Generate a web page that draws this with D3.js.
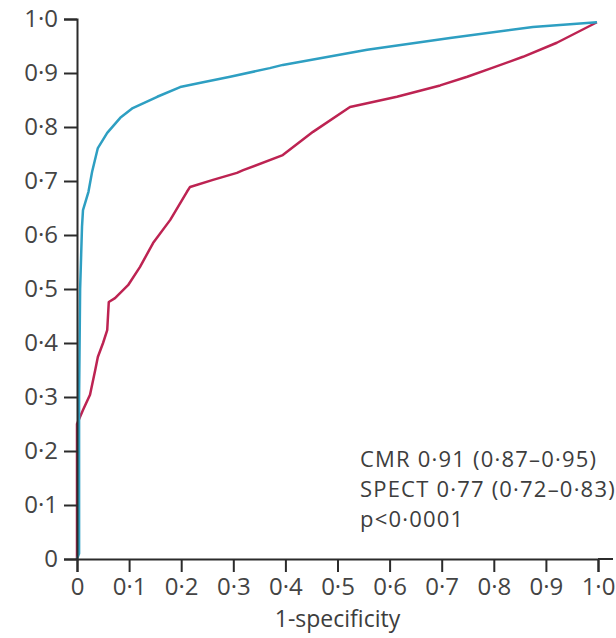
<html>
<head>
<style type="text/css">
	body { margin: 0; background: white; }
	.chart text { font-family: "Open Sans", sans-serif; fill: #3d3d3d; }
	.chart .domain, .chart .tick line { stroke: #2b2b2b; stroke-width: 2; }
</style>
</head>
<body>
<svg class="chart" width=616 height=638></svg>

<script src='https://cdn.jsdelivr.net/npm/d3@7'></script>
<script>
// CMR curve (1-specificity, sensitivity)
var cmrFpr = [0, 0.004, 0.004, 0.006, 0.0096, 0.0115, 0.022, 0.029, 0.040, 0.058, 0.083, 0.107, 0.154, 0.198, 0.242, 0.294, 0.370, 0.395, 0.557, 0.716, 0.875, 0.998];
var cmrTpr = [0, 0.01, 0.30, 0.50, 0.615, 0.646, 0.680, 0.717, 0.761, 0.789, 0.817, 0.835, 0.856, 0.874, 0.883, 0.893, 0.909, 0.915, 0.943, 0.965, 0.985, 0.994];

// SPECT curve
var spectFpr = [0, 0, 0.0115, 0.025, 0.035, 0.040, 0.050, 0.058, 0.061, 0.073, 0.098, 0.121, 0.146, 0.179, 0.211, 0.217, 0.261, 0.307, 0.319, 0.395, 0.453, 0.524, 0.557, 0.614, 0.697, 0.749, 0.793, 0.856, 0.921, 0.998];
var spectTpr = [0, 0.25, 0.276, 0.304, 0.350, 0.374, 0.400, 0.424, 0.476, 0.483, 0.507, 0.541, 0.585, 0.628, 0.680, 0.689, 0.702, 0.715, 0.720, 0.748, 0.791, 0.837, 0.844, 0.856, 0.877, 0.893, 0.908, 0.930, 0.956, 0.994];

var tickVals = [0, 0.1, 0.2, 0.3, 0.4, 0.5, 0.6, 0.7, 0.8, 0.9, 1.0];
var tickLabels = ["0", "0·1", "0·2", "0·3", "0·4", "0·5", "0·6", "0·7", "0·8", "0·9", "1·0"];

var statLines = ["CMR 0·91 (0·87–0·95)", "SPECT 0·77 (0·72–0·83)", "p<0·0001"];
var xTitle = "1-specificity";

var svg = d3.select("svg");

//Define Scales
var xScale = d3.scaleLinear()
	.domain([0, 1])
	.range([77, 598]);

var yScale = d3.scaleLinear()
	.domain([0, 1])
	.range([559, 19]);

var line = d3.line()
	.x(function(d) { return xScale(d[0]); })
	.y(function(d) { return yScale(d[1]); });

//Add curves
var spectData = spectFpr.map(function(v, i) { return [v, spectTpr[i]]; });
var cmrData = cmrFpr.map(function(v, i) { return [v, cmrTpr[i]]; });

svg.append("path")
	.datum(spectData)
	.attr("d", line)
	.attr("fill", "none")
	.attr("stroke", "#bd2352")
	.attr("stroke-width", 2.5)
	.attr("stroke-linejoin", "round");

svg.append("path")
	.datum(cmrData)
	.attr("d", line)
	.attr("fill", "none")
	.attr("stroke", "#2e9fc2")
	.attr("stroke-width", 2.5)
	.attr("stroke-linejoin", "round");

//Add Axes
var fmt = function(d, i) { return tickLabels[i]; };

svg.append("g")
	.attr("transform", "translate(77,0)")
	.call(d3.axisLeft(yScale)
		.tickValues(tickVals)
		.tickFormat(fmt)
		.tickSize(13)
		.tickPadding(6));

svg.append("g")
	.attr("transform", "translate(0,559)")
	.call(d3.axisBottom(xScale)
		.tickValues(tickVals)
		.tickFormat(fmt)
		.tickSize(13)
		.tickPadding(6));

// baseline runs a little past 1·0
svg.append("line")
	.attr("x1", xScale(1))
	.attr("x2", xScale(1) + 15)
	.attr("y1", yScale(0))
	.attr("y2", yScale(0))
	.attr("stroke", "#2b2b2b")
	.attr("stroke-width", 2);

svg.selectAll(".tick text")
	.style("font-size", "24px")
	.style("font-family", "'Open Sans', sans-serif")
	.style("fill", "#444");

//Add Axis title
svg.append("text")
	.attr("x", xScale(0.5))
	.attr("y", 627)
	.style("text-anchor", "middle")
	.style("font-size", "23px")
	.text(xTitle);

//Add stats text
svg.append("g")
	.selectAll("text")
	.data(statLines)
	.enter()
	.append("text")
	.attr("x", 360)
	.attr("y", function(d, i) { return 467 + i * 30; })
	.style("font-size", "22px")
	.style("letter-spacing", "1.2px")
	.text(function(d) { return d; });
</script>
</body>
</html>
